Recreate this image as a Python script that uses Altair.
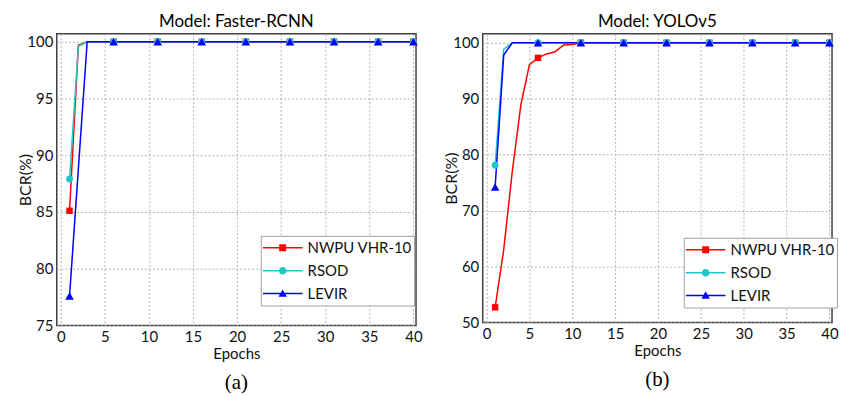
import altair as alt
import pandas as pd

epochs = list(range(1, 41))
series_names = ["NWPU VHR-10", "RSOD", "LEVIR"]
series_colors = ["#ff0000", "#1ec8c8", "#0000ff"]
marker_epochs = [1, 6, 11, 16, 21, 26, 31, 36, 40]
x_ticks = [0, 5, 10, 15, 20, 25, 30, 35, 40]

# Model: Faster-RCNN
frcnn_nwpu = [85.1, 99.7, 100, 100, 100, 100, 100, 100, 100, 100,
              100, 100, 100, 100, 100, 100, 100, 100, 100, 100,
              100, 100, 100, 100, 100, 100, 100, 100, 100, 100,
              100, 100, 100, 100, 100, 100, 100, 100, 100, 100]
frcnn_rsod = [87.9, 99.6, 100, 100, 100, 100, 100, 100, 100, 100,
              100, 100, 100, 100, 100, 100, 100, 100, 100, 100,
              100, 100, 100, 100, 100, 100, 100, 100, 100, 100,
              100, 100, 100, 100, 100, 100, 100, 100, 100, 100]
frcnn_levir = [77.6, 88.8, 100, 100, 100, 100, 100, 100, 100, 100,
               100, 100, 100, 100, 100, 100, 100, 100, 100, 100,
               100, 100, 100, 100, 100, 100, 100, 100, 100, 100,
               100, 100, 100, 100, 100, 100, 100, 100, 100, 100]

# Model: YOLOv5
yolo_nwpu = [52.7, 63.0, 77.0, 88.9, 96.1, 97.3, 98.0, 98.4, 99.6, 99.7,
             100, 100, 100, 100, 100, 100, 100, 100, 100, 100,
             100, 100, 100, 100, 100, 100, 100, 100, 100, 100,
             100, 100, 100, 100, 100, 100, 100, 100, 100, 100]
yolo_rsod = [78.1, 98.8, 100, 100, 100, 100, 100, 100, 100, 100,
             100, 100, 100, 100, 100, 100, 100, 100, 100, 100,
             100, 100, 100, 100, 100, 100, 100, 100, 100, 100,
             100, 100, 100, 100, 100, 100, 100, 100, 100, 100]
yolo_levir = [74.2, 97.8, 100, 100, 100, 100, 100, 100, 100, 100,
              100, 100, 100, 100, 100, 100, 100, 100, 100, 100,
              100, 100, 100, 100, 100, 100, 100, 100, 100, 100,
              100, 100, 100, 100, 100, 100, 100, 100, 100, 100]

marker_shapes = ["square", "circle", "triangle-up"]
marker_sizes = [42, 48, 75]
# legend symbols: a line with the marker drawn on it (fits the [-1, 1] symbol box)
legend_paths = [
    "M-1,-0.0375H1V0.0375H-1Z M-0.175,-0.175H0.175V0.175H-0.175Z",
    "M-1,-0.0375H1V0.0375H-1Z M0.19,0A0.19,0.19 0 1,1 -0.19,0A0.19,0.19 0 1,1 0.19,0Z",
    "M-1,-0.0375H1V0.0375H-1Z M0,-0.21L0.21,0.165H-0.21Z",
]

FONT = "Lato"


def panel(series, title, caption, ydomain, yticks, w, h, lx, ly):
    rows = []
    for name, vals in zip(series_names, series):
        for e, v in zip(epochs, vals):
            rows.append({"Epoch": e, "BCR": v, "Dataset": name})
    df = pd.DataFrame(rows)
    base = alt.Chart(df)
    x = alt.X("Epoch:Q",
              scale=alt.Scale(domain=[-0.45, 40.3], nice=False, zero=False),
              axis=alt.Axis(values=x_ticks, title="Epochs", format="d"))
    y = alt.Y("BCR:Q",
              scale=alt.Scale(domain=ydomain, nice=False, zero=False),
              axis=alt.Axis(values=yticks, title="BCR(%)", format="d"))

    lines = base.mark_line(strokeWidth=1.5).encode(
        x=x, y=y,
        color=alt.Color("Dataset:N",
                        scale=alt.Scale(domain=series_names, range=series_colors),
                        legend=None),
        order="Epoch:Q",
    )
    leg = alt.Legend(title=None, orient="none", legendX=lx, legendY=ly, symbolOpacity=1)
    legend_layer = base.mark_point(filled=True, opacity=0, size=1).encode(
        x=x, y=y,
        fill=alt.Fill("Dataset:N",
                      scale=alt.Scale(domain=series_names, range=series_colors),
                      legend=leg),
        shape=alt.Shape("Dataset:N",
                        scale=alt.Scale(domain=series_names, range=legend_paths),
                        legend=leg),
    )
    layers = [legend_layer, lines]
    for name, col, shp, sz in zip(series_names, series_colors, marker_shapes, marker_sizes):
        layers.append(
            base.transform_filter(alt.FieldOneOfPredicate(field="Dataset", oneOf=[name]))
            .transform_filter(alt.FieldOneOfPredicate(field="Epoch", oneOf=marker_epochs))
            .mark_point(shape=shp, filled=True, size=sz, color=col, opacity=1)
            .encode(x=x, y=y)
        )
    cap = alt.Chart(pd.DataFrame({"t": [caption]})).mark_text(
        font="Liberation Serif", fontSize=21, color="#000000", baseline="middle"
    ).encode(text="t:N", x=alt.value(w / 2), y=alt.value(h + 58))
    layers.append(cap)
    return alt.layer(*layers).properties(
        width=w, height=h,
        title=alt.TitleParams(title, fontSize=17, font=FONT, fontWeight="normal",
                              color="#000000", offset=3, anchor="middle"),
    )


left = panel([frcnn_nwpu, frcnn_rsod, frcnn_levir], "Model: Faster-RCNN", "(a)",
             [75, 100.7], [75, 80, 85, 90, 95, 100], 361, 293, 205, 203)
right = panel([yolo_nwpu, yolo_rsod, yolo_levir], "Model: YOLOv5", "(b)",
              [50, 101.6], [50, 60, 70, 80, 90, 100], 351, 290, 202, 205)

chart = alt.hconcat(left, right, spacing=20).resolve_scale(
    x="independent", y="independent", color="independent",
    fill="independent", shape="independent"
).resolve_legend(fill="independent", shape="independent").properties(
    padding={"left": 9, "top": 3, "right": 0, "bottom": 0}
).configure_view(
    stroke="#404040", strokeWidth=1.5
).configure_axis(
    domain=False, ticks=False, grid=True, gridColor="#b0b0b0", gridDash=[2, 2],
    gridWidth=1, labelFont=FONT, labelFontSize=15, labelColor="#111111",
    labelPadding=4, titleFont=FONT, titleFontSize=16, titleFontWeight="normal",
    titleColor="#111111",
).configure_axisY(titlePadding=-7).configure_axisX(titlePadding=2, titleFontSize=15).configure_legend(
    fillColor="#ffffff", strokeColor="#a0a0a0", strokeWidth=1, padding=2,
    symbolSize=1600, clipHeight=20, symbolOffset=0, labelOffset=5, labelFont=FONT,
    labelFontSize=15, labelColor="#111111", rowPadding=3, cornerRadius=0,
    symbolStrokeWidth=0,
)

chart.save("out.html", embed_options={"renderer": "svg", "actions": False})
